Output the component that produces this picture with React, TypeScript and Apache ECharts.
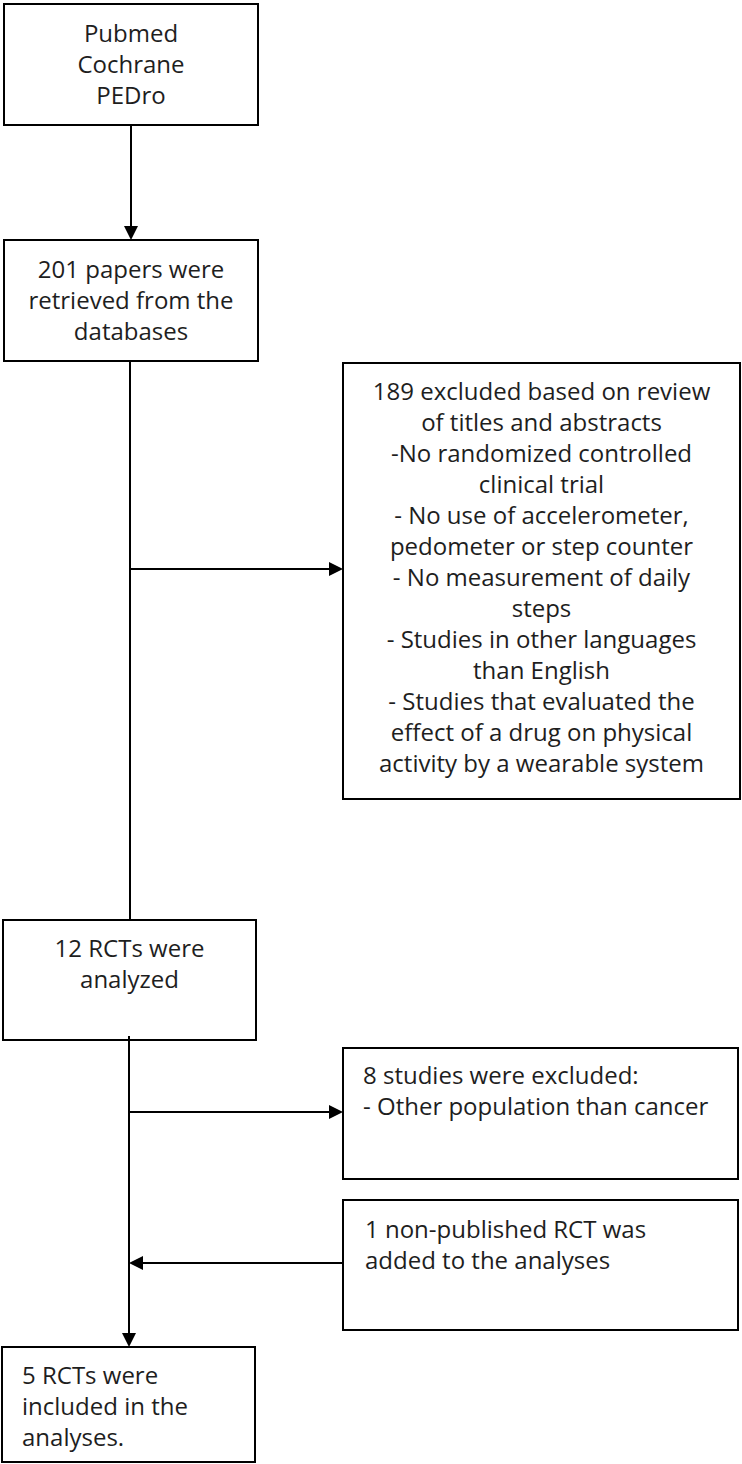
import { useEffect, useRef } from "react";
import * as echarts from "echarts";

// Texts of the boxes (top to bottom)
const boxTexts: string[] = [
  "Pubmed\nCochrane\nPEDro",
  "201 papers were\nretrieved from the\ndatabases",
  "189 excluded based on review\nof titles and abstracts\n-No randomized controlled\nclinical trial\n- No use of accelerometer,\npedometer or step counter\n- No measurement of daily\nsteps\n- Studies in other languages\nthan English\n- Studies that evaluated the\neffect of a drug on physical\nactivity by a wearable system",
  "12 RCTs were\nanalyzed",
  "8 studies were excluded:\n- Other population than cancer",
  "1 non-published RCT was\nadded to the analyses",
  "5 RCTs were\nincluded in the\nanalyses.",
];

// Layout (positions/sizes), kept separate from the content
const boxLayout = [
  { x: 4, y: 4, w: 254, h: 121, align: "center", ty: 13 },
  { x: 4, y: 240, w: 254, h: 121, align: "center", ty: 13 },
  { x: 343, y: 363, w: 397, h: 436, align: "center", ty: 12 },
  { x: 3, y: 920, w: 253, h: 120, align: "center", ty: 12 },
  { x: 343, y: 1048, w: 395, h: 131, align: "left", tx: 20, ty: 11 },
  { x: 343, y: 1200, w: 395, h: 130, align: "left", tx: 22, ty: 13 },
  { x: 2, y: 1347, w: 253, h: 115, align: "left", tx: 20, ty: 12 },
];

// Connectors: [x1, y1, x2, y2, arrow at end?]
const connectors: [number, number, number, number, boolean][] = [
  [131, 125, 131, 240, true],
  [130, 361, 130, 920, false],
  [130, 569, 343, 569, true],
  [129, 1036, 129, 1347, true],
  [129, 1112, 343, 1112, true],
  [343, 1263, 129, 1263, true],
];

const FONT = "'Open Sans', 'Noto Sans', sans-serif";

export default function App() {
  const ref = useRef<HTMLDivElement>(null);
  useEffect(() => {
    document.body.style.margin = "0";
    if (!ref.current) return;
    const chart = echarts.init(ref.current, null, { renderer: "svg" });
    const elements: any[] = [];
    boxLayout.forEach((b, i) => {
      elements.push({
        type: "rect",
        shape: { x: b.x, y: b.y, width: b.w, height: b.h },
        style: { fill: "#fff", stroke: "#000", lineWidth: 2 },
      });
      const centered = b.align === "center";
      elements.push({
        type: "text",
        x: centered ? b.x + b.w / 2 : b.x + (b.tx || 0),
        y: b.y + b.ty,
        style: {
          text: boxTexts[i],
          fill: "#1e1e1e",
          fontSize: 24,
          fontWeight: 400,
          fontFamily: FONT,
          lineHeight: 31,
          align: centered ? "center" : "left",
          verticalAlign: "top",
        },
      });
    });
    const AL = 14;
    const AW = 7;
    connectors.forEach(([x1, y1, x2, y2, arrow]) => {
      const dx = Math.sign(x2 - x1);
      const dy = Math.sign(y2 - y1);
      const ex = arrow ? x2 - dx * AL : x2;
      const ey = arrow ? y2 - dy * AL : y2;
      elements.push({
        type: "line",
        shape: { x1, y1, x2: ex, y2: ey },
        style: { stroke: "#000", lineWidth: 2 },
      });
      if (arrow) {
        const pts =
          dy !== 0
            ? [[x2, y2], [x2 - AW, y2 - dy * AL], [x2 + AW, y2 - dy * AL]]
            : [[x2, y2], [x2 - dx * AL, y2 - AW], [x2 - dx * AL, y2 + AW]];
        elements.push({
          type: "polygon",
          shape: { points: pts },
          style: { fill: "#000" },
        });
      }
    });
    chart.setOption({
      animation: false,
      backgroundColor: "#fff",
      graphic: { elements },
    });
    return () => chart.dispose();
  }, []);
  return <div ref={ref} style={{ width: 742, height: 1464 }} />;
}
